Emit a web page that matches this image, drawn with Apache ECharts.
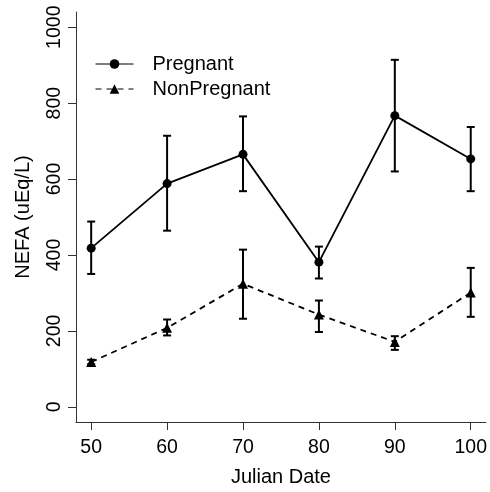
<!DOCTYPE html>
<html>
<head>
<meta charset="utf-8">
<script src="https://cdn.jsdelivr.net/npm/echarts@6/dist/echarts.min.js"></script>
<style>html,body{margin:0;padding:0;background:#fff}#c{width:490px;height:492px}</style>
</head>
<body>
<div id="c"></div>
<script>
var days = [50, 60, 70, 80, 90, 100];
var pregMean = [418, 588, 665, 381, 767, 653];
var pregLow  = [350, 464, 568, 338, 620, 568];
var pregHigh = [488, 714, 765, 422, 914, 737];
var nonMean  = [118, 208, 324, 243, 171, 301];
var nonLow   = [112, 188, 232, 197, 150, 237];
var nonHigh  = [124, 230, 414, 280, 186, 366];
var xTicks = [50, 60, 70, 80, 90, 100];
var yTicks = [0, 200, 400, 600, 800, 1000];

var FONT = 'Liberation Sans, Arial, sans-serif';

function pairs(xs, ys) { return xs.map(function (x, i) { return [x, ys[i]]; }); }
function bars(xs, lo, hi) { return xs.map(function (x, i) { return [x, lo[i], hi[i]]; }); }

function errRender(params, api) {
  var x = api.value(0);
  var lo = api.coord([x, api.value(1)]);
  var hi = api.coord([x, api.value(2)]);
  var w = 4;
  var st = { stroke: '#000', lineWidth: 2 };
  return {
    type: 'group',
    children: [
      { type: 'line', shape: { x1: lo[0], y1: lo[1], x2: hi[0], y2: hi[1] }, style: st },
      { type: 'line', shape: { x1: lo[0] - w, y1: lo[1], x2: lo[0] + w, y2: lo[1] }, style: st },
      { type: 'line', shape: { x1: hi[0] - w, y1: hi[1], x2: hi[0] + w, y2: hi[1] }, style: st }
    ]
  };
}

var chart = echarts.init(document.getElementById('c'));
chart.setOption({
  animation: false,
  backgroundColor: '#fff',
  grid: { left: 76, top: 12, right: 3, bottom: 69, containLabel: false },
  legend: {
    left: 95, top: 54, padding: 0, orient: 'vertical', itemWidth: 38, itemHeight: 12, itemGap: 5,
    data: ['Pregnant', 'NonPregnant'],
    lineStyle: { width: 1 },
    textStyle: { color: '#000', fontSize: 20, fontFamily: FONT, padding: [0, 0, 0, 14] }
  },
  xAxis: {
    type: 'value', min: 48, max: 102,
    name: 'Julian Date', nameLocation: 'middle', nameGap: 45,
    nameTextStyle: { color: '#000', fontSize: 20, fontFamily: FONT },
    axisLine: { show: true, onZero: false, lineStyle: { color: '#333', width: 1 } },
    axisTick: { show: true, length: 8, customValues: xTicks, lineStyle: { color: '#333' } },
    axisLabel: { customValues: xTicks, color: '#000', fontSize: 19.5, fontFamily: FONT, margin: 16 },
    splitLine: { show: false }
  },
  yAxis: {
    type: 'value', min: -40, max: 1040,
    name: 'NEFA (uEq/L)', nameLocation: 'middle', nameGap: 43,
    nameTextStyle: { color: '#000', fontSize: 20, fontFamily: FONT },
    axisLine: { show: true, onZero: false, lineStyle: { color: '#333', width: 1 } },
    axisTick: { show: true, length: 8, customValues: yTicks, lineStyle: { color: '#333' } },
    axisLabel: { customValues: yTicks, rotate: 90, color: '#000', fontSize: 19.5, fontFamily: FONT, margin: 11,
      formatter: function (v) { return String(v); } },
    splitLine: { show: false }
  },
  series: [
    {
      name: 'Pregnant', type: 'line', data: pairs(days, pregMean),
      symbol: 'circle', symbolSize: 9, showAllSymbol: true,
      itemStyle: { color: '#000' }, lineStyle: { color: '#000', width: 1.8 }, z: 3
    },
    {
      name: 'NonPregnant', type: 'line', data: pairs(days, nonMean),
      symbol: 'triangle', symbolSize: 10, showAllSymbol: true,
      itemStyle: { color: '#000' }, lineStyle: { color: '#000', width: 1.8, type: [6, 5] }, z: 3
    },
    { type: 'custom', renderItem: errRender, data: bars(days, pregLow, pregHigh), z: 2, silent: true },
    { type: 'custom', renderItem: errRender, data: bars(days, nonLow, nonHigh), z: 2, silent: true }
  ]
});
</script>
</body>
</html>
